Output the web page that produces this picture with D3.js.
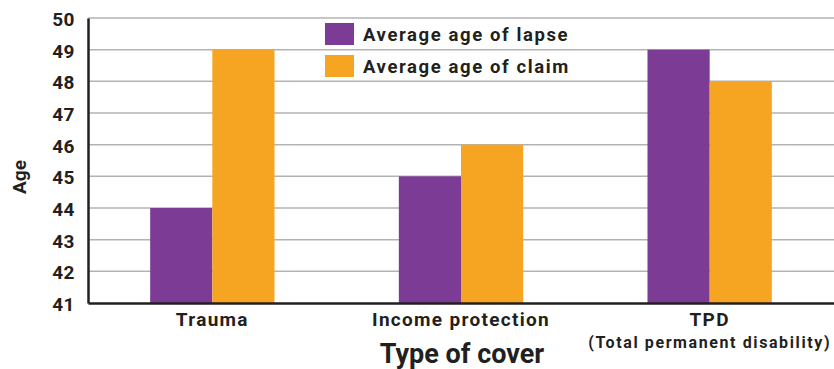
<!DOCTYPE html>
<html>
<head>
<meta charset="utf-8">
<script src="https://cdn.jsdelivr.net/npm/d3@7"></script>
<style>
  body { margin: 0; background: #fff; }
  svg { display: block; font-family: Roboto, "DejaVu Sans", sans-serif; font-weight: bold; }
</style>
</head>
<body>
<div id="chart"></div>
<script>
const categories = ["Trauma", "Income protection", "TPD"];
const subLabels = ["", "", "(Total permanent disability)"];
const series = ["Average age of lapse", "Average age of claim"];
const lapseAge = [44, 45, 49];
const claimAge = [49, 46, 48];
const yTicks = [41, 42, 43, 44, 45, 46, 47, 48, 49, 50];

const width = 834;
const height = 369;
const margin = { top: 18, right: 0, bottom: 66, left: 88 };
const colors = ["#7c3b94", "#f5a521"];
const ink = "#231f20";

const data = categories.map((c, i) => ({ cat: c, values: [lapseAge[i], claimAge[i]] }));

const x = d3.scaleBand()
    .domain(categories)
    .range([margin.left, width - margin.right])
    .paddingInner(0.5)
    .paddingOuter(0.25);

const xs = d3.scaleBand()
    .domain(series)
    .range([0, x.bandwidth()]);

const y = d3.scaleLinear()
    .domain([41, 50])
    .range([height - margin.bottom, margin.top]);

const svg = d3.select("#chart").append("svg")
    .attr("width", width)
    .attr("height", height)
    .attr("viewBox", [0, 0, width, height]);

// grid lines
svg.append("g")
    .selectAll("line")
    .data(yTicks.slice(1))
    .join("line")
    .attr("x1", margin.left)
    .attr("x2", width)
    .attr("y1", d => y(d))
    .attr("y2", d => y(d))
    .attr("stroke", "#b3b3b3")
    .attr("stroke-width", 1.5);

// bars
svg.append("g")
    .selectAll("g")
    .data(data)
    .join("g")
    .attr("transform", d => `translate(${x(d.cat)},0)`)
    .selectAll("rect")
    .data(d => d.values.map((v, i) => ({ key: series[i], v, i })))
    .join("rect")
    .attr("x", d => xs(d.key))
    .attr("width", xs.bandwidth())
    .attr("y", d => y(d.v))
    .attr("height", d => y(41) - y(d.v))
    .attr("fill", d => colors[d.i]);

// y axis
svg.append("g")
    .attr("transform", `translate(${margin.left},0)`)
    .call(d3.axisLeft(y).tickValues(yTicks).tickSize(0).tickPadding(13))
    .call(g => g.select(".domain").attr("stroke", ink).attr("stroke-width", 2.5))
    .call(g => g.selectAll("text")
        .attr("fill", ink)
        .attr("font-size", 19)
        .attr("font-weight", "bold")
        .attr("font-family", "Roboto, sans-serif")
        .attr("letter-spacing", "0.5px")
        .attr("dy", "0.4em"));

// x axis
svg.append("g")
    .attr("transform", `translate(0,${height - margin.bottom})`)
    .call(d3.axisBottom(x).tickSize(0).tickPadding(10))
    .call(g => g.select(".domain").attr("stroke", ink).attr("stroke-width", 2.5))
    .call(g => g.selectAll("text")
        .attr("fill", ink)
        .attr("font-size", 19)
        .attr("font-weight", "bold")
        .attr("font-family", "Roboto, sans-serif")
        .attr("letter-spacing", "1.3px"));

svg.append("g")
    .selectAll("text")
    .data(categories.map((c, i) => ({ c, s: subLabels[i] })).filter(d => d.s))
    .join("text")
    .attr("x", d => x(d.c) + x.bandwidth() / 2)
    .attr("y", 348)
    .attr("text-anchor", "middle")
    .attr("font-size", 16)
    .attr("letter-spacing", "1.6px")
    .attr("fill", ink)
    .text(d => d.s);

// axis titles
svg.append("text")
    .attr("transform", `translate(26,177) rotate(-90)`)
    .attr("text-anchor", "middle")
    .attr("font-size", 19)
    .attr("fill", ink)
    .text("Age");

svg.append("text")
    .attr("x", 462)
    .attr("y", 363)
    .attr("text-anchor", "middle")
    .attr("font-size", 27)
    .attr("fill", ink)
    .text("Type of cover");

// legend
const legend = svg.append("g")
    .selectAll("g")
    .data(series)
    .join("g")
    .attr("transform", (d, i) => `translate(325,${23 + i * 32})`);

legend.append("rect")
    .attr("width", 29)
    .attr("height", 22)
    .attr("fill", (d, i) => colors[i]);

legend.append("text")
    .attr("x", 38)
    .attr("y", 11)
    .attr("dy", "0.36em")
    .attr("font-size", 18.5)
    .attr("letter-spacing", "1.6px")
    .attr("fill", ink)
    .text(d => d);
</script>
</body>
</html>
